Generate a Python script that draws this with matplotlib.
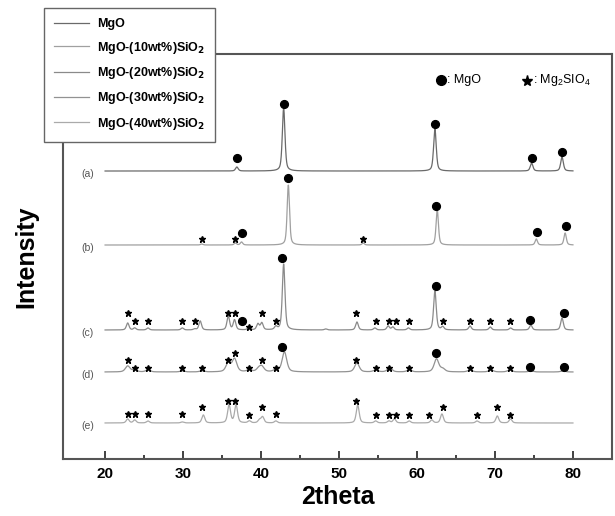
import numpy as np
import matplotlib.pyplot as plt

plt.rcParams['font.family'] = ['Liberation Sans', 'DejaVu Sans']
plt.rcParams['mathtext.default'] = 'bf'

# sample names (legend) and curve tags
names = ['MgO', 'MgO-(10wt%)SiO$_2$', 'MgO-(20wt%)SiO$_2$',
         'MgO-(30wt%)SiO$_2$', 'MgO-(40wt%)SiO$_2$']
tags = ['(a)', '(b)', '(c)', '(d)', '(e)']

# vertical offset of each pattern (arbitrary intensity units)
offsets = [288, 214, 129, 87, 36]

# peaks: (2theta, height)
a_peaks = [(36.9, 4), (42.9, 63), (62.3, 42), (74.7, 8), (78.6, 14)]
b_peaks = [(32.4, 1), (36.7, 2), (37.5, 3), (43.5, 60), (53.1, 2),
           (62.6, 35), (75.3, 6), (79.0, 12)]
c_peaks = [(22.9, 7), (23.8, 2), (25.5, 2), (29.9, 2), (31.5, 1), (32.2, 9),
           (35.8, 14), (36.6, 10), (38.4, 2), (39.6, 6), (40.1, 7), (41.9, 3),
           (42.9, 66), (48.3, 1), (52.3, 8), (54.6, 2), (56.3, 4), (56.9, 3),
           (58.9, 2), (62.3, 39), (63.3, 3), (66.8, 4), (69.4, 3), (72.0, 2),
           (74.6, 5), (78.6, 12)]
d_peaks = [(22.9, 6), (23.8, 2), (25.5, 2), (29.9, 1), (32.4, 1), (35.8, 9),
           (36.6, 13), (38.5, 2), (39.7, 3), (40.1, 5), (41.9, 2), (43.0, 20),
           (52.3, 9), (54.7, 2), (56.5, 4), (59.0, 2), (62.5, 13), (63.3, 3),
           (66.8, 2), (69.5, 2), (71.9, 2), (74.6, 1), (78.7, 1)]
e_peaks = [(22.9, 4), (23.8, 3), (25.5, 2), (29.9, 1), (32.6, 8), (35.9, 18),
           (36.8, 18), (38.5, 2), (39.8, 3), (40.2, 6), (41.9, 2), (52.4, 18),
           (54.7, 2), (56.4, 2), (57.1, 4), (59.0, 2), (61.9, 3), (63.2, 9),
           (67.7, 2), (70.3, 7), (72.0, 4)]
all_peaks = [a_peaks, b_peaks, c_peaks, d_peaks, e_peaks]
widths = [0.2, 0.18, 0.2, 0.35, 0.22]

# phase markers: (2theta, height above the baseline)
a_dots = [(36.9, 13), (42.9, 67), (62.3, 47), (74.7, 13), (78.6, 19)]
b_dots = [(37.6, 12), (43.5, 67), (62.5, 39), (75.4, 13), (79.1, 19)]
c_dots = [(37.6, 9), (42.7, 72), (62.4, 44), (74.5, 10), (78.8, 17)]
d_dots = [(42.7, 25), (62.4, 19), (74.5, 5), (78.8, 5)]
e_dots = []
a_stars = []
b_stars = [(32.4, 6), (36.7, 6), (53.1, 6)]
c_stars = [(22.9, 17), (23.8, 9), (25.5, 9), (29.9, 9), (31.5, 9), (35.8, 17),
           (36.7, 17), (38.5, 3), (40.1, 17), (41.9, 9), (52.2, 17), (54.7, 9),
           (56.4, 9), (57.3, 9), (59.0, 9), (63.3, 9), (66.8, 9), (69.4, 9),
           (71.9, 9)]
d_stars = [(22.9, 12), (23.8, 4), (25.5, 4), (29.9, 4), (32.4, 4), (35.8, 12),
           (36.7, 19), (38.5, 4), (40.1, 12), (41.9, 4), (52.2, 12), (54.7, 4),
           (56.4, 4), (59.0, 4), (66.8, 4), (69.4, 4), (71.9, 4)]
e_stars = [(22.9, 9), (23.8, 9), (25.5, 9), (29.9, 9), (32.4, 16), (35.8, 22),
           (36.7, 22), (38.5, 8), (40.1, 16), (41.9, 9), (52.2, 22), (54.7, 8),
           (56.4, 8), (57.3, 8), (59.0, 8), (61.5, 8), (63.3, 16), (67.7, 8),
           (70.3, 16), (71.9, 8)]
all_dots = [a_dots, b_dots, c_dots, d_dots, e_dots]
all_stars = [a_stars, b_stars, c_stars, d_stars, e_stars]

colors = ['#6a6a6a', '#a0a0a0', '#8a8a8a', '#929292', '#aaaaaa']


def profile(x, peaks, w):
    y = np.zeros_like(x)
    for c, h in peaks:
        u = (x - c) / w
        y += h * (0.5 / (1 + u ** 2) + 0.5 * np.exp(-np.log(2) * u ** 2))
    return y


fig = plt.figure(figsize=(6.15, 5.16), dpi=100)
ax = fig.add_axes([0.1024, 0.1105, 0.8926, 0.7848])

x = np.linspace(20, 80, 3000)
lines = []
for i in range(5):
    base = offsets[i]
    ln, = ax.plot(x, base + profile(x, all_peaks[i], widths[i]),
                  color=colors[i], linewidth=0.9, label=names[i])
    lines.append(ln)
    if all_dots[i]:
        dx, dy = zip(*all_dots[i])
        ax.plot(dx, base + np.array(dy), 'o', color='black', markersize=5.6,
                linestyle='none')
    if all_stars[i]:
        sx, sy = zip(*all_stars[i])
        ax.plot(sx, base + np.array(sy), '*', color='black', markersize=4.8,
                linestyle='none')
    ax.text(17.8, base - 3, tags[i], fontsize=7.5, color='#555555',
            ha='center', va='center', fontweight='normal')

# phase key in the upper right
ax.plot([63.1], [379], 'o', color='black', markersize=7)
ax.text(63.9, 379, ': MgO', fontsize=9, va='center')
ax.plot([74.1], [378], '*', color='black', markersize=8)
ax.text(74.9, 379, r': Mg$_\mathregular{2}$SIO$_\mathregular{4}$', fontsize=9, va='center')

ax.set_xlim(14.6, 85)
ax.set_ylim(0, 405)
ax.set_xticks(np.arange(20, 81, 10))
ax.set_xticks(np.arange(25, 80, 10), minor=True)
ax.set_yticks([])
ax.tick_params(axis='x', which='major', direction='in', length=6, width=1.3,
               labelsize=11, color='#333333', pad=6)
ax.tick_params(axis='x', which='minor', direction='in', length=3, width=1.3,
               color='#333333')
for lbl in ax.get_xticklabels():
    lbl.set_fontweight('bold')
for sp in ax.spines.values():
    sp.set_color('#555555')
    sp.set_linewidth(1.5)

ax.set_xlabel('2theta', fontsize=18, fontweight='bold', labelpad=3)
ax.set_ylabel('Intensity', fontsize=18, fontweight='bold', labelpad=18)

leg = fig.legend(handles=lines, loc='upper left', bbox_to_anchor=(0.062, 0.996),
                 fontsize=9, frameon=True, fancybox=False, framealpha=1,
                 edgecolor='#666666', handlelength=2.8, handletextpad=0.6,
                 labelspacing=0.75, borderpad=0.8)
leg.get_frame().set_linewidth(1.0)
for t in leg.get_texts():
    t.set_fontweight('bold')

fig.savefig('out.png', dpi=100)
